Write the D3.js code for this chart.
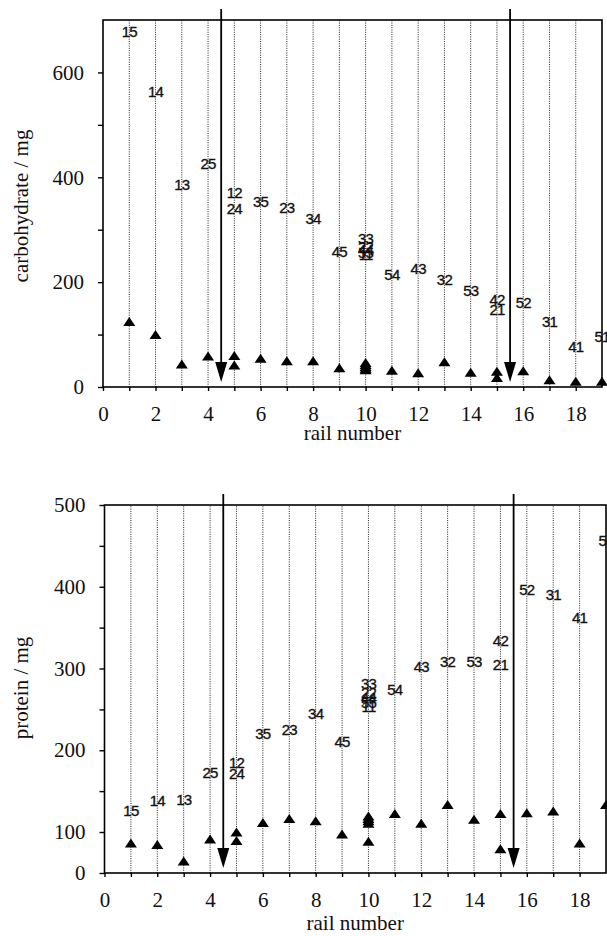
<!DOCTYPE html>
<html>
<head>
<meta charset="utf-8">
<script src="https://cdn.jsdelivr.net/npm/d3@7"></script>
<style>
  body { margin: 0; background: #fff; }
  svg { display: block; }
  .tick text { font-family: "Liberation Serif", "DejaVu Serif", serif; font-size: 21px; fill: #111; }
  .tick line { stroke: #000; stroke-width: 1.4px; }
  .code { font-family: "Liberation Sans", Arial, sans-serif; font-size: 15px; letter-spacing: -0.8px;
          fill: #111; stroke: #111; stroke-width: 0.35px; }
  .title { font-family: "Liberation Serif", "DejaVu Serif", serif; font-size: 21px; fill: #111; }
</style>
</head>
<body>
<div id="chart-area"></div>
<script>
// one entry per sample: code, rail it sits on, label value and triangle value
var codes = ["15", "14", "13", "25", "12", "24", "35", "23", "34", "45",
  "33", "22", "44", "55", "11", "54", "43", "32", "53", "42", "21", "52", "31", "41", "51"];
var rails = [1, 2, 3, 4, 5, 5, 6, 7, 8, 9,
  10, 10, 10, 10, 10, 11, 12, 13, 14, 15, 15, 16, 17, 18, 19];

var carbLabel = [677, 564, 386, 427, 371, 340, 354, 343, 321, 258,
  283, 268, 262, 257, 252, 215, 226, 204, 183, 167, 148, 161, 124, 77, 96];
var carbTri = [124, 99, 43, 58, 59, 41, 54, 49, 49, 36,
  46, 42, 38, 35, 32, 31, 26, 47, 27, 29, 17, 30, 13, 10, 10];

var protLabel = [126, 139, 140, 173, 185, 171, 220, 225, 245, 210,
  282, 270, 264, 258, 253, 274, 302, 309, 308, 334, 305, 396, 391, 362, 456];
var protTri = [72, 68, 28, 82, 99, 78, 111, 116, 113, 94,
  119, 116, 113, 110, 76, 122, 110, 133, 115, 122, 58, 123, 125, 72, 133];

var arrows = [4.5, 15.5];
var railLines = [1, 2, 3, 4, 5, 6, 7, 8, 9, 10, 11, 12, 13, 14, 15, 16, 17, 18];
var railTicks = [0, 1, 2, 3, 4, 5, 6, 7, 8, 9, 10, 11, 12, 13, 14, 15, 16, 17, 18];
var carbTicks = [0, 200, 400, 600];
var carbMinor = [100, 300, 500];
var protTicks = [0, 100, 200, 300, 400, 500];
var protMinor = [150, 250, 350, 450];

var svg = d3.select("#chart-area").append("svg")
  .attr("width", 607)
  .attr("height", 936);

function drawPanel(p) {
  var x = d3.scaleLinear().domain([0, 19]).range([p.left, p.right]);
  var y = p.y;
  var y0 = y(0), yTop = y(p.yMax);
  var g = svg.append("g");

  // dotted rail lines
  g.selectAll(".rail").data(railLines).enter().append("line")
    .attr("x1", d => x(d)).attr("x2", d => x(d))
    .attr("y1", y0).attr("y2", yTop)
    .attr("stroke", "#222").attr("stroke-width", 1)
    .attr("stroke-dasharray", "1,1.3");

  // frame
  g.append("rect")
    .attr("x", x(0)).attr("y", yTop)
    .attr("width", x(19) - x(0)).attr("height", y0 - yTop)
    .attr("fill", "none").attr("stroke", "#000").attr("stroke-width", 1.6);

  // x axis
  var xAxisCall = d3.axisBottom(x)
    .tickValues(railTicks)
    .tickSize(4).tickPadding(15).tickSizeOuter(0)
    .tickFormat(d => d % 2 === 0 ? d : "");
  g.append("g").attr("transform", "translate(0," + y0 + ")")
    .call(xAxisCall)
    .call(a => a.select(".domain").remove());

  // y axis, major and minor ticks
  g.append("g").attr("transform", "translate(" + x(0) + ",0)")
    .call(d3.axisLeft(y).tickValues(p.ticks).tickSize(5).tickPadding(14).tickSizeOuter(0))
    .call(a => a.select(".domain").remove());
  g.append("g").attr("transform", "translate(" + x(0) + ",0)")
    .call(d3.axisLeft(y).tickValues(p.minor).tickSize(5).tickSizeOuter(0).tickFormat(""))
    .call(a => a.select(".domain").remove());

  // arrows
  arrows.forEach(a => {
    var ax = x(a);
    g.append("line")
      .attr("x1", ax).attr("x2", ax)
      .attr("y1", yTop - 11).attr("y2", y0 - 24)
      .attr("stroke", "#000").attr("stroke-width", 1.8);
    g.append("path")
      .attr("d", "M" + (ax - 6) + "," + (y0 - 25) + "L" + (ax + 6) + "," + (y0 - 25) + "L" + ax + "," + (y0 - 5) + "Z")
      .attr("fill", "#000");
  });

  // triangles
  g.selectAll(".tri").data(p.tri).enter().append("path")
    .attr("d", "M0,-5L6,4L-6,4Z")
    .attr("fill", "#000")
    .attr("transform", (d, i) => "translate(" + x(rails[i]) + "," + y(d) + ")");

  // sample codes
  g.selectAll(".code").data(p.label).enter().append("text")
    .attr("class", "code")
    .attr("x", (d, i) => x(rails[i]))
    .attr("y", d => y(d))
    .attr("dy", "0.36em")
    .attr("text-anchor", "middle")
    .text((d, i) => codes[i]);

  // titles
  g.append("text").attr("class", "title")
    .attr("x", (p.left + p.right) / 2).attr("y", p.xTitleY)
    .attr("text-anchor", "middle")
    .text("rail number");
  g.append("text").attr("class", "title")
    .attr("transform", "translate(28," + p.yTitleY + ") rotate(-90)")
    .attr("text-anchor", "middle")
    .text(p.title);
}

drawPanel({
  left: 103, right: 602,
  y: d3.scaleLinear().domain([0, 700]).range([387, 20]),
  yMax: 700,
  ticks: carbTicks, minor: carbMinor,
  label: carbLabel, tri: carbTri,
  title: "carbohydrate / mg", yTitleY: 206, xTitleY: 440
});

drawPanel({
  left: 104.5, right: 606,
  y: d3.scaleLinear().domain([0, 100, 500]).range([873, 832, 505]),
  yMax: 500,
  ticks: protTicks, minor: protMinor,
  label: protLabel, tri: protTri,
  title: "protein / mg", yTitleY: 688, xTitleY: 930
});
</script>
</body>
</html>
